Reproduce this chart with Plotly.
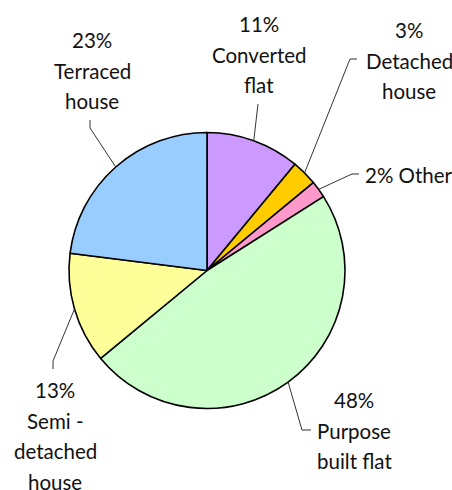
import math
import plotly.graph_objects as go

# Dwelling type shares (percent), clockwise from 12 o'clock
categories = ["Converted flat", "Detached house", "Other",
              "Purpose built flat", "Semi - detached house", "Terraced house"]
shares = [11, 3, 2, 48, 13, 23]
colors = ["#CC99FF", "#FFCC00", "#FF99CC", "#CCFFCC", "#FFFF99", "#99CCFF"]

# Text lines of each outside label (percentage line is prepended from shares)
name_lines = [
    ["Converted", "flat"],
    ["Detached", "house"],
    None,                      # single-line label "2% Other"
    ["Purpose", "built flat"],
    ["Semi -", "detached", "house"],
    ["Terraced", "house"],
]

W, H = 452, 490
CX, CY, R = 207, 270.5, 138
FONT = dict(family="Lato, 'Open Sans', sans-serif", size=20.5, color="#111111")
LINE_GAP = 30.5

# Label placement (pixels): text anchor x, first line centre y, x anchor,
# and the leader-line elbow points from the slice edge to the text
label_layout = [
    dict(x=259, y=24, anchor="center", path=[(258, 104)]),
    dict(x=409, y=30, anchor="center", path=[(350, 59), (357, 59)]),
    dict(x=363, y=175, anchor="left", path=[(352, 174), (359, 174)]),
    dict(x=354, y=400, anchor="center", path=[(302, 430), (311, 430)]),
    dict(x=55, y=390, anchor="center", path=[(53, 361), (53, 369)]),
    dict(x=92, y=40, anchor="center", path=[(90, 128), (90, 120)]),
]


def px(x):
    return x / W


def py(y):
    return 1 - y / H


fig = go.Figure(go.Pie(
    labels=categories,
    values=shares,
    sort=False,
    direction="clockwise",
    rotation=0,
    marker=dict(colors=colors, line=dict(color="#000000", width=1.6)),
    textinfo="none",
    hoverinfo="label+percent",
    showlegend=False,
    domain=dict(x=[(CX - R) / W, (CX + R) / W],
                y=[1 - (CY + R) / H, 1 - (CY - R) / H]),
))

total = sum(shares)
annotations = []
shapes = []
cum = 0
for name, v, lines, lay in zip(categories, shares, name_lines, label_layout):
    mid = (cum + v / 2) / total * 2 * math.pi
    cum += v
    # leader line starts on the slice rim at the slice's middle angle
    sx = CX + R * math.sin(mid)
    sy = CY - R * math.cos(mid)
    pts = [(sx, sy)] + lay["path"]
    d = "M " + " L ".join(f"{px(x):.5f},{py(y):.5f}" for x, y in pts)
    shapes.append(dict(type="path", xref="paper", yref="paper", path=d,
                       line=dict(color="#333333", width=1)))

    text_lines = [f"{v}% Other"] if lines is None else [f"{v}%"] + lines
    for i, t in enumerate(text_lines):
        annotations.append(dict(
            text=t, x=px(lay["x"]), y=py(lay["y"] + i * LINE_GAP),
            xref="paper", yref="paper", showarrow=False,
            xanchor=lay["anchor"], yanchor="middle", font=FONT,
        ))

fig.update_layout(
    width=W, height=H,
    margin=dict(l=0, r=0, t=0, b=0),
    paper_bgcolor="white",
    plot_bgcolor="white",
    annotations=annotations,
    shapes=shapes,
)

fig.write_html("out.html")
